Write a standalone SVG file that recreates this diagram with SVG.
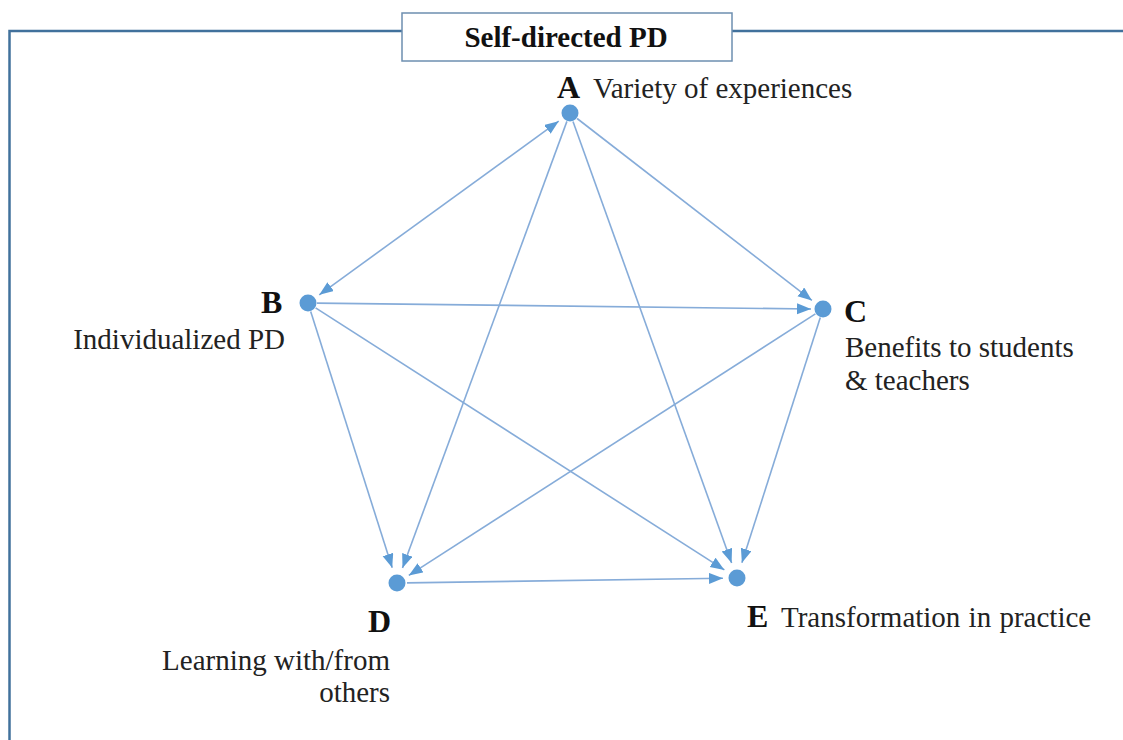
<svg xmlns="http://www.w3.org/2000/svg" width="1123" height="740" viewBox="0 0 1123 740">
<style>
.frame{fill:none;stroke:#41719c;stroke-width:2.5}
.tbox{fill:#fff;stroke:#6d8fb0;stroke-width:1.5}
.edge{stroke:#86acd9;stroke-width:1.6;fill:none;marker-end:url(#ah)}
.dot{fill:#5b9bd5}
.lt{font-family:'Liberation Serif','DejaVu Serif',serif;font-weight:700;font-size:32px;fill:#111}
.tx{font-family:'Liberation Serif','DejaVu Serif',serif;font-weight:400;font-size:29px;fill:#222}
.title{font-family:'Liberation Serif','DejaVu Serif',serif;font-weight:700;font-size:29px;fill:#111}
</style>
<defs>
<marker id="ah" markerUnits="userSpaceOnUse" markerWidth="16" markerHeight="13" refX="14" refY="5.5" orient="auto-start-reverse">
<path d="M0,0 L14,5.5 L0,11 z" fill="#5b9bd5"/>
</marker>
</defs>
<rect width="1123" height="740" fill="#fff"/>
<path class="frame" d="M1123,31 H9.5 V740"/>
<g id="title">
<rect class="tbox" x="402" y="13" width="330" height="48"/>
<text class="title" x="566" y="47" text-anchor="middle">Self-directed PD</text>
</g>
<g id="connectors">
<line class="edge" x1="558.7" y1="121.2" x2="319.3" y2="294.8" marker-start="url(#ah)"/>
<line class="edge" x1="577.1" y1="118.5" x2="811.9" y2="300.4"/>
<line class="edge" x1="566.9" y1="121.4" x2="402.5" y2="568"/>
<line class="edge" x1="573" y1="121.5" x2="731.6" y2="562.9"/>
<line class="edge" x1="317" y1="303.1" x2="811" y2="309"/>
<line class="edge" x1="310.7" y1="311.6" x2="392.2" y2="567.8"/>
<line class="edge" x1="315.6" y1="307.9" x2="724.4" y2="569.9"/>
<line class="edge" x1="815.4" y1="313.9" x2="408.8" y2="575.4"/>
<line class="edge" x1="820.3" y1="317.6" x2="741.9" y2="562.8"/>
<line class="edge" x1="407" y1="582.9" x2="723" y2="578.2"/>
</g>
<g id="nodeA">
<circle class="dot" cx="570" cy="113" r="8.5"/>
<text class="lt" x="557" y="98">A</text>
<text class="tx" x="593" y="98">Variety of experiences</text>
</g>
<g id="nodeB">
<circle class="dot" cx="308" cy="303" r="8.5"/>
<text class="lt" x="261" y="313">B</text>
<text class="tx" x="285" y="349" text-anchor="end">Individualized PD</text>
</g>
<g id="nodeC">
<circle class="dot" cx="823" cy="309" r="8.5"/>
<text class="lt" x="844" y="322">C</text>
<text class="tx" x="845" y="357">Benefits to students</text>
<text class="tx" x="845" y="390">&amp; teachers</text>
</g>
<g id="nodeD">
<circle class="dot" cx="397" cy="583" r="8.5"/>
<text class="lt" x="368" y="632">D</text>
<text class="tx" x="390" y="670" text-anchor="end">Learning with/from</text>
<text class="tx" x="390" y="702" text-anchor="end">others</text>
</g>
<g id="nodeE">
<circle class="dot" cx="737" cy="578" r="8.5"/>
<text class="lt" x="747" y="627">E</text>
<text class="tx" x="781" y="627" word-spacing="1">Transformation in practice</text>
</g>
</svg>
